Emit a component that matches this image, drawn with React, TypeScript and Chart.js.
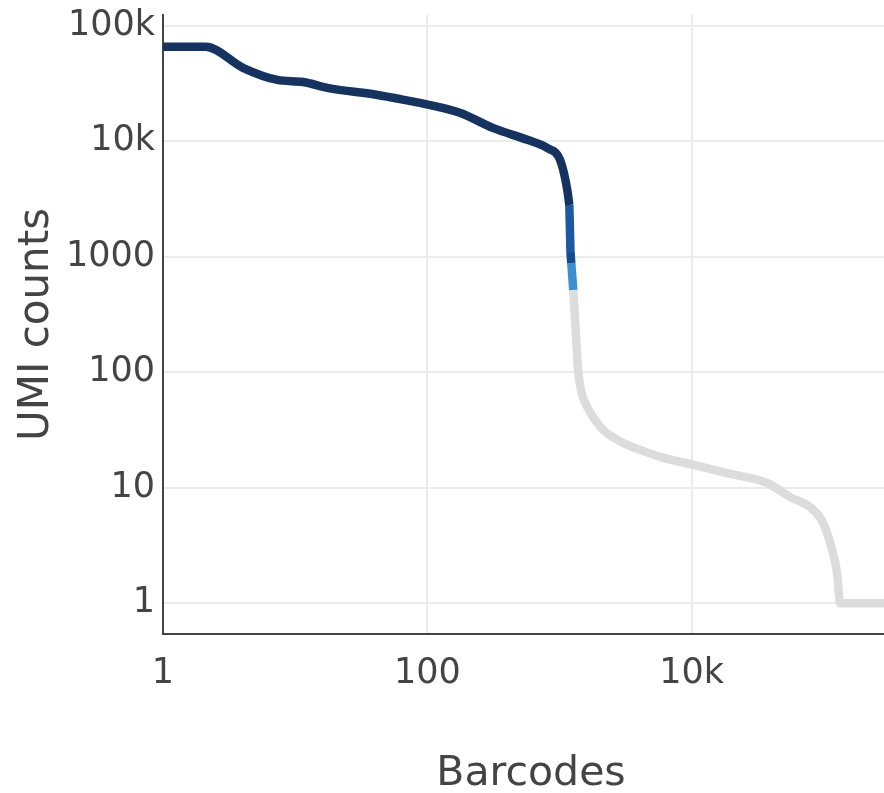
import React, { useEffect, useRef } from "react";
import { Chart, registerables } from "chart.js";

Chart.register(...registerables);

// Cell barcodes (dark navy)
const cellBarcodes = [1, 2.1, 4.06, 7.34, 11.5, 17.5, 41.9, 62.5, 105, 178, 316, 571, 807, 1010, 1145, 1186];
const cellUmi = [66000, 66000, 43100, 34000, 32600, 29000, 25200, 23200, 20600, 17600, 13000, 10300, 8750, 6890, 3790, 2810];

// Transitional segments (mixed cells / background)
const mixABarcodes = [1186, 1210];
const mixAUmi = [2810, 1100];
const mixBBarcodes = [1210, 1227];
const mixBUmi = [1100, 885];
const mixCBarcodes = [1227, 1270];
const mixCUmi = [885, 516];

// Background barcodes (gray)
const bgBarcodes = [1270, 1316, 1350, 1387, 1462, 1622, 1832, 2143, 2594, 3252, 4300, 5776, 10260, 18540, 37200, 55600, 78700, 98700, 115300, 125900, 132700, 370000];
const bgUmi = [516, 267, 156, 98.7, 67.5, 50.1, 39.4, 31.7, 27.0, 23.5, 20.8, 18.5, 15.8, 13.4, 11.0, 8.3, 6.8, 4.96, 2.9, 1.83, 1, 1];

const xTickValues = [1, 100, 10000];
const xTickLabels = ["1", "100", "10k"];
const yTickValues = [1, 10, 100, 1000, 10000, 100000];
const yTickLabels = ["1", "10", "100", "1000", "10k", "100k"];

const toPoints = (xs: number[], ys: number[]) => xs.map((x, i) => ({ x, y: ys[i] }));

export default function App() {
  const ref = useRef<HTMLCanvasElement | null>(null);

  useEffect(() => {
    document.body.style.margin = "0";
    document.body.style.overflow = "hidden";
    const canvas = ref.current;
    if (!canvas) return;
    const font = "'DejaVu Sans', Verdana, sans-serif";
    const line = (label: string, xs: number[], ys: number[], color: string) => ({
      label,
      data: toPoints(xs, ys),
      borderColor: color,
      backgroundColor: color,
      borderWidth: 8.5,
      pointRadius: 0,
      fill: false,
      cubicInterpolationMode: "monotone" as const,
      borderCapStyle: "butt" as const,
      borderJoinStyle: "round" as const,
    });
    const chart = new Chart(canvas, {
      type: "line",
      data: {
        datasets: [
          line("Background", bgBarcodes, bgUmi, "#dcdcdc"),
          line("Cells", cellBarcodes, cellUmi, "#163360"),
          line("Mixed A", mixABarcodes, mixAUmi, "#1c58a4"),
          line("Mixed B", mixBBarcodes, mixBUmi, "#164c8f"),
          line("Mixed C", mixCBarcodes, mixCUmi, "#3d8fd1"),
        ],
      },
      options: {
        responsive: false,
        animation: false,
        layout: { padding: { top: 15, right: 0, bottom: 0, left: 0 } },
        plugins: { legend: { display: false }, tooltip: { enabled: false } },
        scales: {
          x: {
            type: "logarithmic",
            min: 1,
            max: 370000,
            afterBuildTicks: (scale: any) => {
              scale.ticks = xTickValues.map((v) => ({ value: v }));
            },
            afterFit: (scale: any) => {
              scale.height = 159;
              scale.paddingLeft = 0;
              scale.paddingRight = 0;
            },
            ticks: {
              autoSkip: false,
              maxRotation: 0,
              padding: 19,
              color: "#444",
              font: { family: font, size: 35 },
              callback: (v: any) => {
                const i = xTickValues.indexOf(Number(v));
                return i >= 0 ? xTickLabels[i] : "";
              },
            },
            grid: { color: "#ebebeb", lineWidth: 2, drawTicks: false },
            border: { display: true, color: "#444", width: 2 },
            title: {
              display: true,
              text: "Barcodes",
              color: "#444",
              font: { family: font, size: 41, lineHeight: 0.9 },
              padding: { top: 0, bottom: 0 },
            },
          },
          y: {
            type: "logarithmic",
            min: 0.542,
            max: 124100,
            afterBuildTicks: (scale: any) => {
              scale.ticks = yTickValues.map((v) => ({ value: v }));
            },
            afterFit: (scale: any) => {
              scale.width = 163;
              scale.paddingTop = 0;
              scale.paddingBottom = 0;
            },
            ticks: {
              autoSkip: false,
              padding: 8,
              color: "#444",
              font: { family: font, size: 35 },
              callback: (v: any) => {
                const i = yTickValues.indexOf(Number(v));
                return i >= 0 ? yTickLabels[i] : "";
              },
            },
            grid: { color: "#ebebeb", lineWidth: 2, drawTicks: false },
            border: { display: true, color: "#444", width: 2 },
            title: {
              display: true,
              text: "UMI counts",
              color: "#444",
              font: { family: font, size: 42, lineHeight: 1 },
              padding: { top: 16, bottom: 0 },
            },
          },
        },
      },
    });
    return () => chart.destroy();
  }, []);

  return (
    <div style={{ width: 884, height: 793, overflow: "hidden", position: "relative", background: "#fff" }}>
      <canvas ref={ref} width={899} height={793} style={{ display: "block" }} />
    </div>
  );
}
